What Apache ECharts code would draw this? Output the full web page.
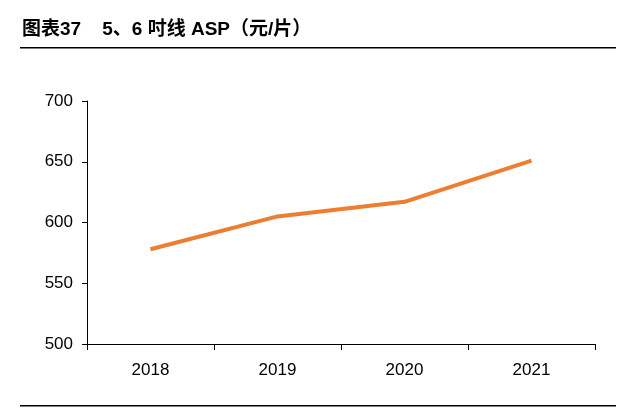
<!DOCTYPE html>
<html>
<head>
<meta charset="utf-8">
<script src="https://cdn.jsdelivr.net/npm/echarts@6/dist/echarts.min.js"></script>
<style>html,body{margin:0;padding:0;background:#fff}#main{width:640px;height:410px}</style>
</head>
<body>
<div id="main"></div>
<script>
const years = ['2018', '2019', '2020', '2021'];
const aspValues = [578, 605, 617, 651];
const yTicks = { min: 500, max: 700, interval: 50 };

const chart = echarts.init(document.getElementById('main'));
chart.setOption({
    animation: false,
    textStyle: { fontFamily: 'Liberation Sans, Arial, Noto Sans CJK SC' },
    graphic: [
        { type: 'text', left: 22, top: 20, style: { text: '图表37    5、6 吋线 ASP（元/片）', font: 'bold 19px "Liberation Sans", "Noto Sans CJK SC"', fill: '#000' } },
        { type: 'rect', shape: { x: 20, y: 47, width: 596, height: 1.5 }, style: { fill: '#000' } },
        { type: 'rect', shape: { x: 20, y: 405, width: 596, height: 1.5 }, style: { fill: '#000' } }
    ],
    grid: { left: 87, right: 45, top: 101, bottom: 66 },
    xAxis: {
        type: 'category',
        data: years,
        boundaryGap: true,
        axisLine: { lineStyle: { color: '#000' } },
        axisTick: { show: true, length: 6, lineStyle: { color: '#000' } },
        axisLabel: { color: '#000', fontSize: 17, margin: 18 }
    },
    yAxis: {
        type: 'value',
        min: yTicks.min, max: yTicks.max, interval: yTicks.interval,
        axisLine: { show: true, lineStyle: { color: '#000' } },
        axisTick: { show: true, length: 5, lineStyle: { color: '#000' } },
        splitLine: { show: false },
        axisLabel: { color: '#000', fontSize: 17, margin: 14 }
    },
    series: [{
        type: 'line',
        data: aspValues,
        symbol: 'none',
        lineStyle: { color: '#ED7D31', width: 4 }
    }]
});
</script>
</body>
</html>
